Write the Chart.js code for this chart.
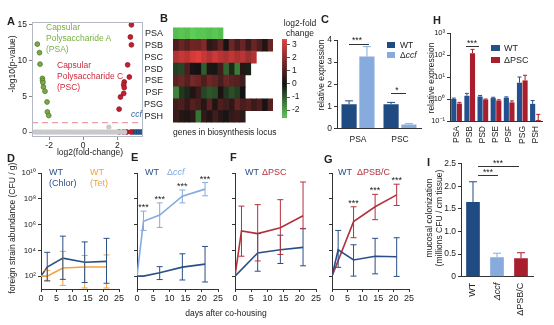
<!DOCTYPE html>
<html>
<head>
<meta charset="utf-8">
<script src="https://cdn.jsdelivr.net/npm/chart.js@4.4.1/dist/chart.umd.min.js"></script>
<style>
  body { margin: 0; background: #fff; }
  #fig { position: relative; width: 554px; height: 325px; overflow: hidden; font-family: "Liberation Sans", Arial, sans-serif; color: #222; }
  #fig canvas { position: absolute; }
  .t { position: absolute; white-space: nowrap; font-size: 8.5px; line-height: 1; }
  .L { position: absolute; font-weight: bold; font-size: 11px; line-height: 1; }
  .r { transform: translate(-50%, -50%) rotate(-90deg); text-align: center; }
  .c { transform: translateX(-50%); text-align: center; }
  .ln { position: absolute; border-top: 1px solid #333; height: 0; }
  .sq { position: absolute; width: 8px; height: 6px; }
</style>
</head>
<body>
<div id="fig">
  <canvas id="cA" width="150" height="150" style="left:0;top:10px"></canvas>
  <canvas id="cB" width="138" height="110" style="left:140px;top:20px"></canvas>
  <canvas id="cBar" width="40" height="95" style="left:275px;top:30px"></canvas>
  <canvas id="cC" width="110" height="115" style="left:315px;top:30px"></canvas>
  <canvas id="cH" width="126" height="122" style="left:428px;top:25px"></canvas>
  <canvas id="cD" width="112" height="139" style="left:15px;top:163px"></canvas>
  <canvas id="cE" width="100" height="139" style="left:125px;top:163px"></canvas>
  <canvas id="cF" width="100" height="139" style="left:223px;top:163px"></canvas>
  <canvas id="cG" width="97" height="139" style="left:320px;top:163px"></canvas>
  <canvas id="cI" width="126" height="165" style="left:428px;top:155px"></canvas>

  <!-- panel letters -->
  <div class="L" style="left:7px;top:16px">A</div>
  <div class="L" style="left:160px;top:13px">B</div>
  <div class="L" style="left:321px;top:14px">C</div>
  <div class="L" style="left:433px;top:15px">H</div>
  <div class="L" style="left:7px;top:153px">D</div>
  <div class="L" style="left:131px;top:152px">E</div>
  <div class="L" style="left:230px;top:152px">F</div>
  <div class="L" style="left:324px;top:154px">G</div>
  <div class="L" style="left:427px;top:157px">I</div>

  <!-- A -->
  <div class="t" style="left:46px;top:21.5px;line-height:11px;color:#78b043">Capsular<br>Polysaccharide A<br>(PSA)</div>
  <div class="t" style="left:57px;top:60px;line-height:11px;color:#cf2a3a">Capsular<br>Polysaccharide C<br>(PSC)</div>
  <div class="t" style="left:131px;top:110px;color:#2d5fa0;font-style:italic">ccf</div>
  <div class="t r" style="left:12px;top:64px">-log10(p-value)</div>
  <div class="t c" style="left:90px;top:148px">log2(fold-change)</div>

  <!-- B -->
  <div class="t" style="left:173px;top:128px">genes in biosynthesis locus</div>
  <div class="t c" style="left:300px;top:18px;line-height:10px">log2-fold<br>change</div>

  <!-- C -->
  <div class="t r" style="left:321px;top:75px">relative expression</div>
  <div class="sq" style="left:387px;top:42px;background:#1f4b82"></div>
  <div class="sq" style="left:387px;top:52px;background:#87abdd"></div>
  <div class="t" style="left:400px;top:41px">WT</div>
  <div class="t" style="left:400px;top:51px">Δ<i>ccf</i></div>
  <div class="t c" style="left:357px;top:36px">***</div>
  <div class="ln" style="left:349px;top:44px;width:20px"></div>
  <div class="t c" style="left:397px;top:86px">*</div>
  <div class="ln" style="left:391px;top:93px;width:15px"></div>

  <!-- H -->
  <div class="t r" style="left:431px;top:78px">relative expression</div>
  <div class="sq" style="left:491px;top:45px;width:9px;background:#23518f"></div>
  <div class="sq" style="left:491px;top:57px;width:9px;background:#a81e2d"></div>
  <div class="t" style="left:504px;top:44px;font-size:9px">WT</div>
  <div class="t" style="left:504px;top:56px;font-size:9px">ΔPSC</div>
  <div class="t c" style="left:472px;top:39px">***</div>
  <div class="ln" style="left:466px;top:46px;width:13px"></div>

  <!-- D-G -->
  <div class="t r" style="left:12px;top:228px">foreign strain abundance (CFU / g)</div>
  <div class="t c" style="left:226px;top:309px">days after co-housing</div>
  <div class="t" style="left:49px;top:166.5px;font-size:9px;line-height:11px;color:#2a4f87">WT<br>(Chlor)</div>
  <div class="t" style="left:90px;top:166.5px;font-size:9px;line-height:11px;color:#f2a23a">WT<br>(Tet)</div>
  <div class="t" style="left:145px;top:168px;font-size:9px;color:#2a4f87">WT</div>
  <div class="t" style="left:167px;top:168px;font-size:9px;color:#86aadf">Δ<i>ccf</i></div>
  <div class="t" style="left:245px;top:168px;font-size:9px;color:#2a4f87">WT</div>
  <div class="t" style="left:262px;top:168px;font-size:9px;color:#b3323e">ΔPSC</div>
  <div class="t" style="left:338px;top:168px;font-size:9px;color:#2a4f87">WT</div>
  <div class="t" style="left:357px;top:168px;font-size:9px;color:#b3323e">ΔPSB/C</div>

  <!-- I -->
  <div class="t r" style="left:434px;top:218px;line-height:10px">mucosal colonization<br>(millions CFU / cm tissue)</div>
  <div class="t c" style="left:498px;top:159px">***</div>
  <div class="ln" style="left:478px;top:166px;width:41px"></div>
  <div class="t c" style="left:488px;top:168px">***</div>
  <div class="ln" style="left:478px;top:175px;width:20px"></div>
</div>

<script>
// ---- A: volcano plot ----
const psaX = [-2.69, -2.56, -2.53, -2.39, -2.38, -2.36, -2.33, -2.24, -2.12, -2.1, -2.02];
const psaY = [12.3, 11.1, 9.5, 7.5, 7.2, 6.9, 6.3, 5.7, 4.2, 2.8, 2.3];
const pscX = [2.82, 2.76, 2.82, 2.6, 2.7, 2.4, 2.37, 2.4, 2.37, 2.18, 2.1];
const pscY = [15.0, 13.3, 12.2, 9.4, 7.7, 7.0, 6.6, 6.2, 5.4, 4.9, 3.2];
const pscZeroX = [2.1, 2.35, 2.55, 2.8];
const ccfX = [2.95, 3.1, 3.25, 3.4];
const nsX = [-2.85, -2.74, -2.62, -2.5, -2.41, -2.27, -2.15, -2.04, -1.9, -1.79, -1.66, -1.55, -1.41, -1.3,
  -1.17, -1.05, -0.93, -0.8, -0.68, -0.55, -0.44, -0.31, -0.19, -0.06, 0.05, 0.18, 0.3, 0.43, 0.56, 0.67,
  0.8, 0.92, 1.05, 1.17, 1.3, 1.42, 1.55, 1.66, 1.79, 1.92, 2.04, 2.15, 2.3, 2.42, 1.5];
const nsY = [0, 0, 0, 0, 0, 0, 0, 0, 0, 0, 0, 0, 0, 0, 0, 0, 0, 0, 0, 0, 0, 0, 0, 0, 0, 0, 0, 0, 0, 0,
  0, 0, 0, 0, 0, 0, 0, 0, 0, 0, 0, 0, 0, 0, 0.7];
const pCutoff = 1.3;

// ---- B: heatmap, log2 fold change per gene ----
const hmRows = ['PSA', 'PSB', 'PSC', 'PSD', 'PSE', 'PSF', 'PSG', 'PSH'];
const hmPSA = [-2.3, -2.4, -2.3, -2.5, -2.4, -2.4, -2.3, -2.4, -2.3];
const hmPSB = [0.9, 1.3, 1.0, 1.4, 1.3, 1.7, 0.4, 0.6, 1.2, 0.1, 1.4, 0.8, 1.3, 0.6, 1.3, 0.9, 0.2, 1.3];
const hmPSC = [2.4, 2.7, 2.5, 2.9, 3.1, 2.7, 2.4, 2.8, 2.5, 2.3, 2.6, 2.3, 2.5, 2.1, 2.4];
const hmPSD = [-0.6, -0.7, 0.9, 0.1, 0.0, -1.0, 0.2, -0.1, 0.7, -1.1, -0.3, -1.4, 0.3, -0.2];
const hmPSE = [1.1, 1.4, 1.0, 1.5, 1.3, 0.9, 1.4, 1.2, 0.8, 1.3, 1.1, 1.0, 0.7];
const hmPSF = [-1.5, -0.5, -0.3, 0.2, 0.6, -0.7, -0.9, -0.8, 0.1, -0.5, -0.8, -0.6, 0.0];
const hmPSG = [0.7, 0.9, 0.5, 1.0, 0.8, 0.3, 1.1, 0.2, 0.9, 0.7, 0.4, 1.2, 0.8, 1.0, 0.6, 0.9, 0.1, 1.0];
const hmPSH = [0.6, 0.3, 0.2, 0.4, -1.3, 0.5, 0.2, 0.7, 0.3, 0.1, 0.5, 0.6, 0.4];
const cbTicks = [-2, -1, 0, 1, 2, 3];

// ---- C ----
const cGroups = ['PSA', 'PSC'];
const cWT = [1.1, 1.1];
const cWTErr = [1.25, 1.18];
const cCcf = [3.25, 0.18];
const cCcfErr = [3.7, 0.22];

// ---- H ----
const hGenes = ['PSA', 'PSB', 'PSD', 'PSE', 'PSF', 'PSG', 'PSH'];
const hWT = [1.0, 1.4, 1.3, 1.1, 1.15, 5.5, 0.6];
const hWTErr = [1.1, 1.8, 1.45, 1.2, 1.25, 10, 0.85];
const hPSC = [0.62, 120, 0.95, 0.85, 0.7, 7.0, 0.11];
const hPSCErr = [0.7, 180, 1.0, 0.92, 0.82, 12, 0.2];

// ---- D-G: foreign strain abundance ----
const dDays = [0, 2, 7, 14, 21];
const dChlor = [100, 510, 2500, 1200, 1400];
const dChlorLo = [null, 42, 56, 32, 28];
const dChlorHi = [null, 7000, 126000, 45000, 85000];
const dTet = [100, 100, 430, 510, 510];
const dTetLo = [null, 47, 19, 12, 12];
const dTetHi = [null, 280, 8300, 4000, 4400];

const eDays = [0, 2, 7, 14, 21];
const eWT = [100, 100, 180, 500, 850];
const eWTLo = [null, null, 54, 50, 35];
const eWTHi = [null, null, 540, 5400, 20000];
const eCcf = [100, 1.8e6, 5.4e6, 1.6e8, 5.6e8];
const eCcfLo = [null, 3.5e5, 6e5, 4.8e7, 1.7e8];
const eCcfHi = [null, 1.1e7, 4.8e7, 4.8e8, 1.8e9];
const eStars = [null, '***', '***', '***', '***'];

const fDaysWT = [0, 7, 14, 21];
const fWT = [100, 6300, 11000, 17000];
const fWTLo = [null, 240, 950, 630];
const fWTHi = [null, 200000, 150000, 480000];
const fDaysPSC = [0, 2, 7, 14, 21];
const fPSC = [100, 3.2e5, 2e5, 5.6e5, 4.8e6];
const fPSCLo = [null, 3.5e3, 1.5e3, 4.8e3, 4.8e5];
const fPSCHi = [null, 2.7e7, 3.5e7, 8.5e7, 2e9];

const gDaysWT = [0, 2, 7, 14, 21];
const gWT = [100, 11000, 1800, 3500, 3200];
const gWTLo = [null, 480, 100, 150, 95];
const gWTHi = [null, 350000, 27000, 85000, 95000];
const gDaysPSBC = [0, 7, 14, 21];
const gPSBC = [100, 1.7e6, 2.4e7, 2e8];
const gPSBCLo = [null, 9.5e4, 2.4e6, 3e7];
const gPSBCHi = [null, 2.4e7, 2.2e8, 1.35e9];
const gStars = [null, '***', '***', '***'];

// ---- I ----
const iStrains = ['WT', 'Δccf', 'ΔPSB/C'];
const iVals = [1.65, 0.43, 0.41];
const iErr = [2.1, 0.52, 0.53];

// colours
const WT_BLUE = '#1f4b82';
const LIGHT_BLUE = '#87abdd';
const DARK_RED = '#a81e2d';
const LINE_BLUE = '#2a4f87';
const LINE_RED = '#b3323e';
const ORANGE = '#f2a23a';
const LINE_LIGHT = '#86aadf';

Chart.defaults.font.family = '"Liberation Sans", Arial, sans-serif';
Chart.defaults.font.size = 8;
Chart.defaults.color = '#222';
Chart.defaults.animation = false;
Chart.defaults.responsive = false;
Chart.defaults.plugins.legend.display = false;
Chart.defaults.plugins.tooltip.enabled = false;

const SUP = { '-': '⁻', '0': '⁰', '1': '¹', '2': '²', '3': '³', '4': '⁴', '5': '⁵', '6': '⁶', '7': '⁷', '8': '⁸', '9': '⁹' };
const pow10 = v => '10' + String(Math.round(Math.log10(v))).split('').map(c => SUP[c]).join('');
const fixW = w => s => { s.width = w; };
const fixH = h => s => { s.height = h; };
const setTicks = vals => s => { s.ticks = vals.map(v => ({ value: v })); };

function axisStyle(o) {
  return {
    ...o,
    border: { display: true, color: '#333', width: 1, ...(o.border || {}) },
    grid: { display: true, drawOnChartArea: false, tickLength: 3, color: '#333', ...(o.grid || {}) },
    ticks: { padding: 2, color: '#222', autoSkip: false, minRotation: 0, maxRotation: 0, ...(o.ticks || {}) },
  };
}

function fcColor(v) {
  const lo = [18, 18, 18];
  const hi = v >= 0 ? [232, 62, 62] : [92, 205, 85];
  const t = v >= 0 ? Math.min(1, v / 3.2) : Math.min(1, -v / 2.5);
  return `rgb(${lo.map((l, k) => Math.round(l + (hi[k] - l) * t))})`;
}

// error bars (errHigh, optional errLow) drawn through the chart's own scales
const errorBars = {
  id: 'errorBars',
  afterDatasetsDraw(chart) {
    const ctx = chart.ctx;
    chart.data.datasets.forEach((ds, i) => {
      if (!ds.errHigh) return;
      const meta = chart.getDatasetMeta(i);
      const ys = chart.scales[meta.yAxisID];
      const cw = ds.capWidth || 3;
      ctx.save();
      ctx.lineWidth = 1;
      meta.data.forEach((el, j) => {
        const hi = ds.errHigh[j];
        if (hi == null) return;
        const raw = ds.data[j];
        const lo = ds.errLow ? ds.errLow[j] : (typeof raw === 'object' ? raw.y : raw);
        const col = Array.isArray(ds.backgroundColor) ? ds.backgroundColor[j] : (ds.errColor || ds.backgroundColor);
        ctx.strokeStyle = col;
        const yh = ys.getPixelForValue(hi), yl = ys.getPixelForValue(lo);
        ctx.beginPath();
        ctx.moveTo(el.x, yl); ctx.lineTo(el.x, yh);
        ctx.moveTo(el.x - cw, yh); ctx.lineTo(el.x + cw, yh);
        if (ds.errLow) { ctx.moveTo(el.x - cw, yl); ctx.lineTo(el.x + cw, yl); }
        ctx.stroke();
      });
      ctx.restore();
    });
  }
};

const starMarks = {
  id: 'starMarks',
  afterDatasetsDraw(chart) {
    const ctx = chart.ctx;
    chart.data.datasets.forEach((ds, i) => {
      if (!ds.stars) return;
      const meta = chart.getDatasetMeta(i);
      const ys = chart.scales[meta.yAxisID];
      ctx.save();
      ctx.fillStyle = '#222';
      ctx.font = '9px "Liberation Sans", Arial, sans-serif';
      ctx.textAlign = 'center';
      meta.data.forEach((el, j) => {
        if (!ds.stars[j]) return;
        ctx.fillText(ds.stars[j], el.x, ys.getPixelForValue(ds.errHigh[j]) - 1);
      });
      ctx.restore();
    });
  }
};
Chart.register(errorBars, starMarks);

// ---- A ----
const toPts = (xs, ys) => xs.map((x, i) => ({ x, y: ys[i] }));
const volcanoDeco = {
  id: 'volcanoDeco',
  beforeDatasetsDraw(chart) {
    const { ctx, chartArea: a, scales } = chart;
    const y = scales.y.getPixelForValue(pCutoff);
    ctx.save();
    ctx.strokeStyle = '#e8858f';
    ctx.lineWidth = 1;
    ctx.setLineDash([6, 4]);
    ctx.beginPath(); ctx.moveTo(a.left, y); ctx.lineTo(a.right, y); ctx.stroke();
    ctx.restore();
  },
  afterDraw(chart) {
    const { ctx, chartArea: a } = chart;
    ctx.save();
    ctx.strokeStyle = '#b4b8c4';
    ctx.lineWidth = 1;
    ctx.strokeRect(a.left + 0.5, a.top + 0.5, a.right - a.left - 1, a.bottom - a.top - 1);
    ctx.restore();
  }
};

new Chart(document.getElementById('cA'), {
  type: 'scatter',
  data: {
    datasets: [
      { data: toPts(nsX, nsY), backgroundColor: '#c9c9c9', borderWidth: 0, pointRadius: 2.6 },
      { data: toPts(psaX, psaY), backgroundColor: '#7aa84a', borderColor: '#557a2e', borderWidth: 0.8, pointRadius: 2.4 },
      { data: toPts(pscX, pscY), backgroundColor: '#c41e30', borderColor: '#8e1420', borderWidth: 0.8, pointRadius: 2.4 },
      { data: pscZeroX.map(x => ({ x, y: 0 })), backgroundColor: '#c41e30', borderColor: '#8e1420', borderWidth: 0.8, pointRadius: 2.4 },
      { data: ccfX.map(x => ({ x, y: 0 })), backgroundColor: '#2a5b9c', borderColor: '#1b3f70', borderWidth: 0.8, pointRadius: 2.4 },
    ]
  },
  options: {
    layout: { padding: { top: 12, right: 7 } },
    scales: {
      x: axisStyle({ type: 'linear', min: -3, max: 3.5, afterFit: fixH(23), afterBuildTicks: setTicks([-2, 0, 2]),
        border: { display: false }, grid: { color: '#888' }, ticks: { font: { size: 8.5 }, padding: 1 } }),
      y: axisStyle({ type: 'linear', min: -0.7, max: 15.4, afterFit: fixW(32), afterBuildTicks: setTicks([0, 5, 10, 15]),
        border: { display: false }, grid: { color: '#888' }, ticks: { font: { size: 8.5 } } }),
    }
  },
  plugins: [volcanoDeco]
});

// ---- B ----
const hmData = [hmPSA, hmPSB, hmPSC, hmPSD, hmPSE, hmPSF, hmPSG, hmPSH];
const nCols = Math.max(...hmData.map(r => r.length));
new Chart(document.getElementById('cB'), {
  type: 'bar',
  data: {
    labels: hmRows,
    datasets: Array.from({ length: nCols }, (_, j) => ({
      data: hmData.map(r => (j < r.length ? 1 : null)),
      backgroundColor: hmData.map(r => (j < r.length ? fcColor(r[j]) : 'rgba(0,0,0,0)')),
      borderWidth: 0, barPercentage: 1, categoryPercentage: 1,
    }))
  },
  options: {
    indexAxis: 'y',
    layout: { padding: { top: 6, right: 5, bottom: 4 } },
    scales: {
      x: { stacked: true, display: false, min: 0, max: nCols },
      y: { stacked: true, afterFit: fixW(33), grid: { display: false }, border: { display: false },
        ticks: { font: { size: 9 }, padding: 2, color: '#222', autoSkip: false } },
    }
  }
});

// colour bar
const fcMin = -2.6, fcMax = 3.45;
new Chart(document.getElementById('cBar'), {
  type: 'bar',
  data: {
    labels: [''],
    datasets: [{
      data: [[fcMin, fcMax]],
      backgroundColor: c => {
        const ch = c.chart;
        if (!ch.chartArea) return '#000';
        const ys = ch.scales.y;
        const g = ch.ctx.createLinearGradient(0, ys.getPixelForValue(fcMin), 0, ys.getPixelForValue(fcMax));
        g.addColorStop(0, fcColor(fcMin));
        g.addColorStop(-fcMin / (fcMax - fcMin), fcColor(0));
        g.addColorStop(1, fcColor(fcMax));
        return g;
      },
      borderColor: '#777', borderWidth: 0.5, borderSkipped: false,
      barPercentage: 1, categoryPercentage: 1,
    }]
  },
  options: {
    layout: { padding: { left: 7, top: 9, bottom: 7 } },
    scales: {
      x: { display: false },
      y: axisStyle({ position: 'right', min: fcMin, max: fcMax, afterFit: fixW(28), afterBuildTicks: setTicks(cbTicks),
        border: { display: false }, grid: { color: '#555' }, ticks: { font: { size: 8.5 } } }),
    }
  }
});

// ---- C ----
new Chart(document.getElementById('cC'), {
  type: 'bar',
  data: {
    labels: cGroups,
    datasets: [
      { data: cWT, errHigh: cWTErr, backgroundColor: WT_BLUE, capWidth: 4, categoryPercentage: 0.85, barPercentage: 0.85 },
      { data: cCcf, errHigh: cCcfErr, backgroundColor: LIGHT_BLUE, capWidth: 4, categoryPercentage: 0.85, barPercentage: 0.85 },
    ]
  },
  options: {
    layout: { padding: { top: 10, right: 4 } },
    scales: {
      x: axisStyle({ afterFit: fixH(16.5), grid: { display: false }, ticks: { font: { size: 8.5 }, padding: 3 } }),
      y: axisStyle({ min: 0, max: 4, afterFit: fixW(22), ticks: { stepSize: 1, font: { size: 8.5 } } }),
    }
  }
});

// ---- H ----
new Chart(document.getElementById('cH'), {
  type: 'bar',
  data: {
    labels: hGenes,
    datasets: [
      { data: hWT, errHigh: hWTErr, backgroundColor: '#23518f', capWidth: 2, categoryPercentage: 0.85, barPercentage: 0.92 },
      { data: hPSC, errHigh: hPSCErr, backgroundColor: DARK_RED, capWidth: 2, categoryPercentage: 0.85, barPercentage: 0.92 },
    ]
  },
  options: {
    layout: { padding: { top: 8, right: 12 } },
    scales: {
      x: axisStyle({ afterFit: fixH(26), grid: { display: false },
        ticks: { font: { size: 8.5 }, minRotation: 90, maxRotation: 90, padding: 2 } }),
      y: axisStyle({ type: 'logarithmic', min: 0.1, max: 1000, afterFit: fixW(22),
        afterBuildTicks: setTicks([0.1, 1, 10, 100, 1000]), ticks: { font: { size: 7.5 }, callback: pow10 } }),
    }
  }
});

// ---- D-G ----
function growthChart(id, yWidth, padRight, showLabels, series) {
  return new Chart(document.getElementById(id), {
    type: 'line',
    data: {
      datasets: series.map(s => ({
        data: s.days.map((d, i) => ({ x: d, y: s.vals[i] })),
        errLow: s.lo, errHigh: s.hi, stars: s.stars,
        borderColor: s.color, errColor: s.color, backgroundColor: s.color,
        borderWidth: 1.6, pointRadius: 0, capWidth: 3,
      }))
    },
    options: {
      layout: { padding: { top: 10, right: padRight } },
      scales: {
        x: axisStyle({ type: 'linear', min: 0, max: 25, afterFit: fixH(13),
          ticks: { stepSize: 5, font: { size: 9 }, padding: 1 } }),
        y: axisStyle({ type: 'logarithmic', min: 10, max: 1e10, afterFit: fixW(yWidth),
          afterBuildTicks: setTicks([1e2, 1e4, 1e6, 1e8, 1e10]),
          ticks: { display: showLabels, font: { size: 8 }, callback: pow10 } }),
      }
    }
  });
}

growthChart('cD', 26, 8, true, [
  { days: dDays, vals: dTet, lo: dTetLo, hi: dTetHi, color: ORANGE },
  { days: dDays, vals: dChlor, lo: dChlorLo, hi: dChlorHi, color: LINE_BLUE },
]);
growthChart('cE', 12, 7, false, [
  { days: eDays, vals: eWT, lo: eWTLo, hi: eWTHi, color: LINE_BLUE },
  { days: eDays, vals: eCcf, lo: eCcfLo, hi: eCcfHi, color: LINE_LIGHT, stars: eStars },
]);
growthChart('cF', 12, 7, false, [
  { days: fDaysWT, vals: fWT, lo: fWTLo, hi: fWTHi, color: LINE_BLUE },
  { days: fDaysPSC, vals: fPSC, lo: fPSCLo, hi: fPSCHi, color: LINE_RED },
]);
growthChart('cG', 12, 8, false, [
  { days: gDaysWT, vals: gWT, lo: gWTLo, hi: gWTHi, color: LINE_BLUE },
  { days: gDaysPSBC, vals: gPSBC, lo: gPSBCLo, hi: gPSBCHi, color: LINE_RED, stars: gStars },
]);

// ---- I ----
new Chart(document.getElementById('cI'), {
  type: 'bar',
  data: {
    labels: iStrains,
    datasets: [{
      data: iVals, errHigh: iErr, backgroundColor: [WT_BLUE, LIGHT_BLUE, DARK_RED], capWidth: 4,
      categoryPercentage: 0.6, barPercentage: 0.95,
    }]
  },
  options: {
    layout: { padding: { top: 8.7, right: 21 } },
    scales: {
      x: axisStyle({ afterFit: fixH(43.3), grid: { display: false },
        ticks: { minRotation: 90, maxRotation: 90, padding: 3,
          font: c => ({ size: 9, style: c.index === 1 ? 'italic' : 'normal' }) } }),
      y: axisStyle({ min: 0, max: 2.5, afterFit: fixW(33),
        ticks: { stepSize: 0.5, font: { size: 8.5 }, callback: v => (v === 0 ? '0' : v.toFixed(1)) } }),
    }
  }
});
</script>
</body>
</html>
